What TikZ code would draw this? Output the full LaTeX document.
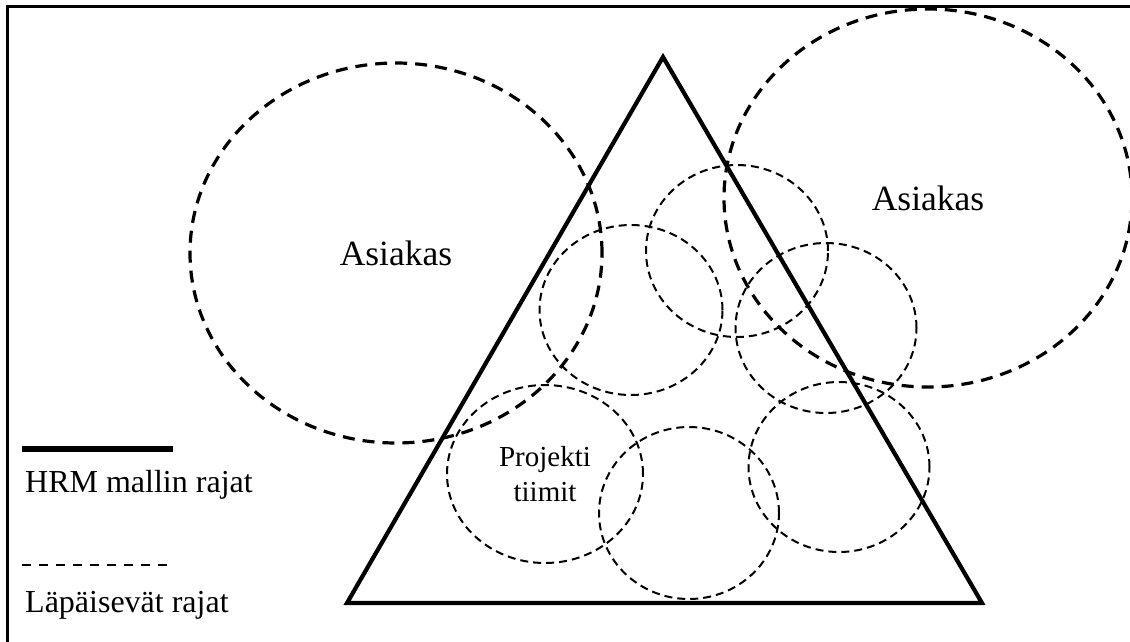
\documentclass[tikz,border=0pt]{standalone}
\usepackage{fontspec}
\setmainfont{Liberation Serif}
\usetikzlibrary{shapes.geometric,positioning}
\tikzset{
  frame/.style    = {draw, line width=3pt},
  border/.style   = {draw, line width=4.2pt, line join=miter},
  client/.style   = {ellipse, draw, line width=3.2pt, dash pattern=on 12pt off 8pt,
                     inner sep=0pt, font=\fontsize{35.5}{40}\selectfont},
  team/.style     = {ellipse, draw, line width=2pt, dash pattern=on 8pt off 5pt,
                     inner sep=0pt, align=center, font=\fontsize{29}{35}\selectfont},
  legtext/.style  = {anchor=west, inner sep=0pt, font=\fontsize{32}{36}\selectfont},
}

\begin{document}
\begin{tikzpicture}[x=1pt,y=-1pt]
  \useasboundingbox (0,0) rectangle (1130,641);
  \draw[frame] (7,6) rectangle (1145,660);
  % HRM triangle
  \coordinate (top) at (663,57);
  \coordinate (bl)  at (347,603);
  \coordinate (br)  at (982,603);
  \draw[border] (top) -- (bl) -- (br) -- cycle;
  % clients
  \node[client, minimum width=412pt, minimum height=380pt] (asl) at (396,253) {Asiakas};
  \node[client, minimum width=408pt, minimum height=378pt] (asr) at (928,198) {Asiakas};
  % project teams
  \node[team, minimum width=183pt, minimum height=170pt] (t1) at (631,310) {};
  \node[team, minimum width=182pt, minimum height=172pt] (t2) at (737,251) {};
  \node[team, minimum width=181pt, minimum height=170pt] (t3) at (826,328) {};
  \node[team, minimum width=196pt, minimum height=178pt] (t4) at (545,474) {Projekti\\tiimit};
  \node[team, minimum width=180pt, minimum height=172pt] (t5) at (689,513) {};
  \node[team, minimum width=181pt, minimum height=170pt] (t6) at (839,467) {};
  % legend
  \coordinate (la) at (22,449);
  \coordinate (lb) at (173,449);
  \draw[line width=6.5pt] (la) -- (lb);
  \node[legtext] (lhrm) at (25,485) {HRM mallin rajat};
  \coordinate (da) at (22,565);
  \coordinate (db) at (173,565);
  \draw[line width=2pt, dash pattern=on 9pt off 8pt] (da) -- (db);
  \node[legtext] (lpas) at (25,605) {Läpäisevät rajat};
\end{tikzpicture}
\end{document}
